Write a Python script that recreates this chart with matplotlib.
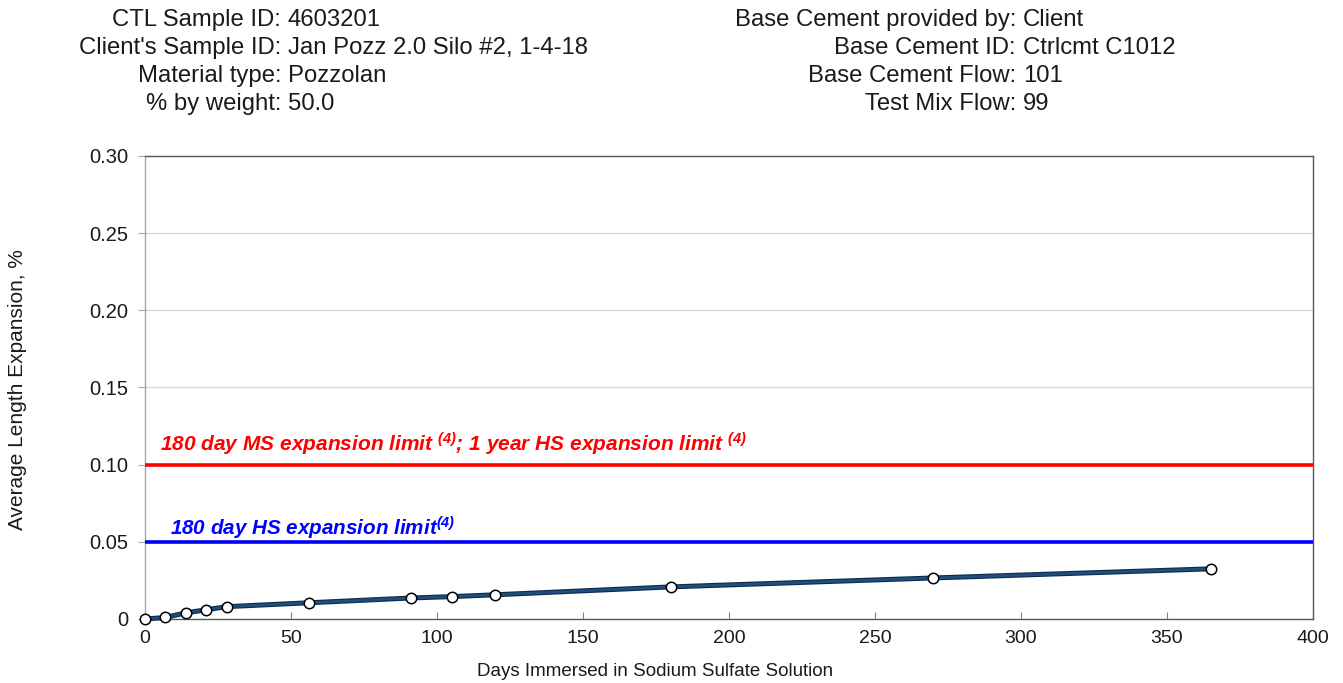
import matplotlib
matplotlib.use("Agg")
import matplotlib.pyplot as plt
from matplotlib.ticker import FuncFormatter, MultipleLocator

plt.rcParams['font.family'] = ['Liberation Sans', 'DejaVu Sans']
plt.rcParams['mathtext.fontset'] = 'custom'
plt.rcParams['mathtext.rm'] = 'Liberation Sans:italic:bold'
plt.rcParams['mathtext.it'] = 'Liberation Sans:italic:bold'
plt.rcParams['mathtext.bf'] = 'Liberation Sans:italic:bold'

# sample info
left_labels = ["CTL Sample ID:", "Client's Sample ID:", "Material type:", "% by weight:"]
left_values = ["4603201", "Jan Pozz 2.0 Silo #2, 1-4-18", "Pozzolan", "50.0"]
right_labels = ["Base Cement provided by:", "Base Cement ID:", "Base Cement Flow:", "Test Mix Flow:"]
right_values = ["Client", "Ctrlcmt C1012", "101", "99"]

# expansion data
days = [0, 7, 14, 21, 28, 56, 91, 105, 120, 180, 270, 365]
expansion = [0.000, 0.001, 0.004, 0.006, 0.008, 0.0105, 0.0136, 0.0145, 0.0157, 0.0208, 0.0266, 0.0325]

# limits
ms_limit = 0.10
hs_limit = 0.05
ms_text = "180 day MS expansion limit $^{(4)}$; 1 year HS expansion limit $^{(4)}$"
hs_text = "180 day HS expansion limit$^{(4)}$"

W, H = 1343, 683
fig = plt.figure(figsize=(W / 100, H / 100), dpi=100)
ax = fig.add_axes([145 / W, 1 - 619 / H, (1313 - 145) / W, (619 - 156) / H])


def px(x, y):
    return x / W, 1 - y / H


# header block
row_y = [20, 48, 76, 104]
hdr = dict(va='center', fontsize=17.2, color='#1A1A1A')
for i in range(4):
    fig.text(*px(281, row_y[i]), left_labels[i], ha='right', **hdr)
    fig.text(*px(288, row_y[i]), left_values[i], ha='left', **hdr)
    fig.text(*px(1016, row_y[i]), right_labels[i], ha='right', **hdr)
    fig.text(*px(1023, row_y[i]), right_values[i], ha='left', **hdr)

# limit lines
ax.axhline(ms_limit, color='#FF0000', lw=2.6, zorder=3)
ax.axhline(hs_limit, color='#0000FF', lw=2.6, zorder=3)
ax.text(5, ms_limit + 0.013, ms_text, color='#FF0000', fontsize=15,
        fontstyle='italic', fontweight='bold', va='center', ha='left')
ax.text(8.5, hs_limit + 0.009, hs_text, color='#0000FF', fontsize=14.9,
        fontstyle='italic', fontweight='bold', va='center', ha='left')

# data series
ax.plot(days, expansion, color='#0E2A4F', lw=3.6, zorder=4,
        solid_capstyle='round', clip_on=False)
ax.plot(days, expansion, color='#1F4E79', lw=2.0, zorder=5, clip_on=False,
        marker='o', markersize=7.5, markerfacecolor='white',
        markeredgecolor='black', markeredgewidth=1.1)

ax.set_xlim(0, 400)
ax.set_ylim(0, 0.30)
ax.xaxis.set_major_locator(MultipleLocator(50))
ax.yaxis.set_major_locator(MultipleLocator(0.05))
ax.yaxis.set_major_formatter(FuncFormatter(lambda v, p: "0" if abs(v) < 1e-9 else "%.2f" % v))
ax.grid(axis='y', color='#D9D9D9', lw=1.0)
ax.set_axisbelow(True)

for s in ax.spines.values():
    s.set_color('#595959')
    s.set_linewidth(1.0)
ax.spines['left'].set_color('#A6A6A6')

ax.tick_params(axis='x', direction='in', length=5, color='#808080', labelsize=14, pad=8, labelcolor='#1A1A1A')
ax.tick_params(axis='y', direction='out', length=5, color='#A6A6A6', labelsize=14.5, pad=7, labelcolor='#1A1A1A')

fig.text(*px(655, 672), "Days Immersed in Sodium Sulfate Solution", ha='center', va='center', fontsize=13.5, color='#1A1A1A')
fig.text(*px(18, 390), "Average Length Expansion, %", ha='center', va='center', rotation=90, fontsize=15, color='#1A1A1A')

fig.savefig("out.png", dpi=100, facecolor='white')
